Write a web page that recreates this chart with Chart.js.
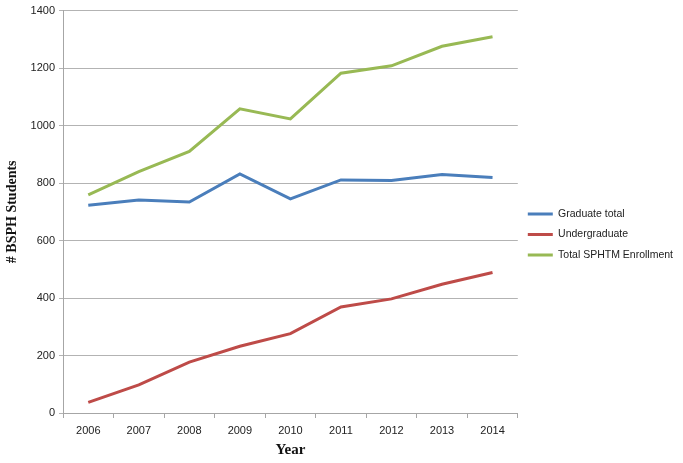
<!DOCTYPE html>
<html>
<head>
<meta charset="utf-8">
<script src="https://cdn.jsdelivr.net/npm/chart.js@4"></script>
<style>
  html, body { margin: 0; padding: 0; background: #fff; }
  #wrap { width: 683px; height: 463px; }
</style>
</head>
<body>
<div id="wrap"><canvas id="enrollChart"></canvas></div>
<script>
// Years on the x axis
const years = ['2006', '2007', '2008', '2009', '2010', '2011', '2012', '2013', '2014'];

// Student counts
const graduateTotal = [723, 741, 734, 832, 745, 811, 809, 830, 819];
const undergraduate = [37, 98, 177, 232, 276, 369, 397, 448, 489];
const totalEnrollment = [759, 840, 910, 1058, 1023, 1182, 1208, 1276, 1309];

const tickFont = { family: "'Liberation Sans', Arial, sans-serif", size: 11 };
const titleFont = { family: "'Liberation Serif', 'Times New Roman', serif", size: 14, weight: 'bold' };

const ctx = document.getElementById('enrollChart').getContext('2d');
const enrollChart = new Chart(ctx, {
    type: 'line',
    data: {
        labels: years,
        datasets: [{
            label: 'Graduate total',
            data: graduateTotal,
            borderColor: '#4a7ebb',
            backgroundColor: '#4a7ebb',
            borderWidth: 3,
            pointRadius: 0,
            tension: 0
        }, {
            label: 'Undergraduate',
            data: undergraduate,
            borderColor: '#be4b48',
            backgroundColor: '#be4b48',
            borderWidth: 3,
            pointRadius: 0,
            tension: 0
        }, {
            label: 'Total SPHTM Enrollment',
            data: totalEnrollment,
            borderColor: '#98b954',
            backgroundColor: '#98b954',
            borderWidth: 3,
            pointRadius: 0,
            tension: 0
        }]
    },
    options: {
        responsive: true,
        maintainAspectRatio: false,
        animation: false,
        layout: { padding: { top: 6, right: 0 } },
        plugins: {
            legend: {
                position: 'right',
                labels: {
                    usePointStyle: true,
                    pointStyle: 'line',
                    pointStyleWidth: 25,
                    padding: 10,
                    color: '#222',
                    font: { family: "'Liberation Sans', Arial, sans-serif", size: 10.5 }
                }
            },
            tooltip: { enabled: false }
        },
        scales: {
            x: {
                offset: true,
                grid: {
                    offset: true,
                    drawOnChartArea: false,
                    color: '#a6a6a6',
                    tickLength: 5
                },
                border: { color: '#a6a6a6' },
                ticks: { color: '#222', font: tickFont, padding: 6 },
                title: {
                    display: true,
                    text: 'Year',
                    color: '#111',
                    font: { family: titleFont.family, size: 15, weight: 'bold' },
                    padding: { top: 8 }
                },
                afterFit: (scale) => { scale.height = 50; }
            },
            y: {
                min: 0,
                max: 1400,
                ticks: {
                    stepSize: 200,
                    color: '#222',
                    font: tickFont,
                    padding: 4,
                    callback: (value) => String(value)
                },
                grid: { color: '#b3b3b3', tickLength: 4 },
                border: { color: '#a6a6a6' },
                title: {
                    display: true,
                    text: '# BSPH Students',
                    color: '#111',
                    font: titleFont,
                    padding: { bottom: 6 }
                },
                afterFit: (scale) => { scale.width = 63; }
            }
        }
    }
});
</script>
</body>
</html>
